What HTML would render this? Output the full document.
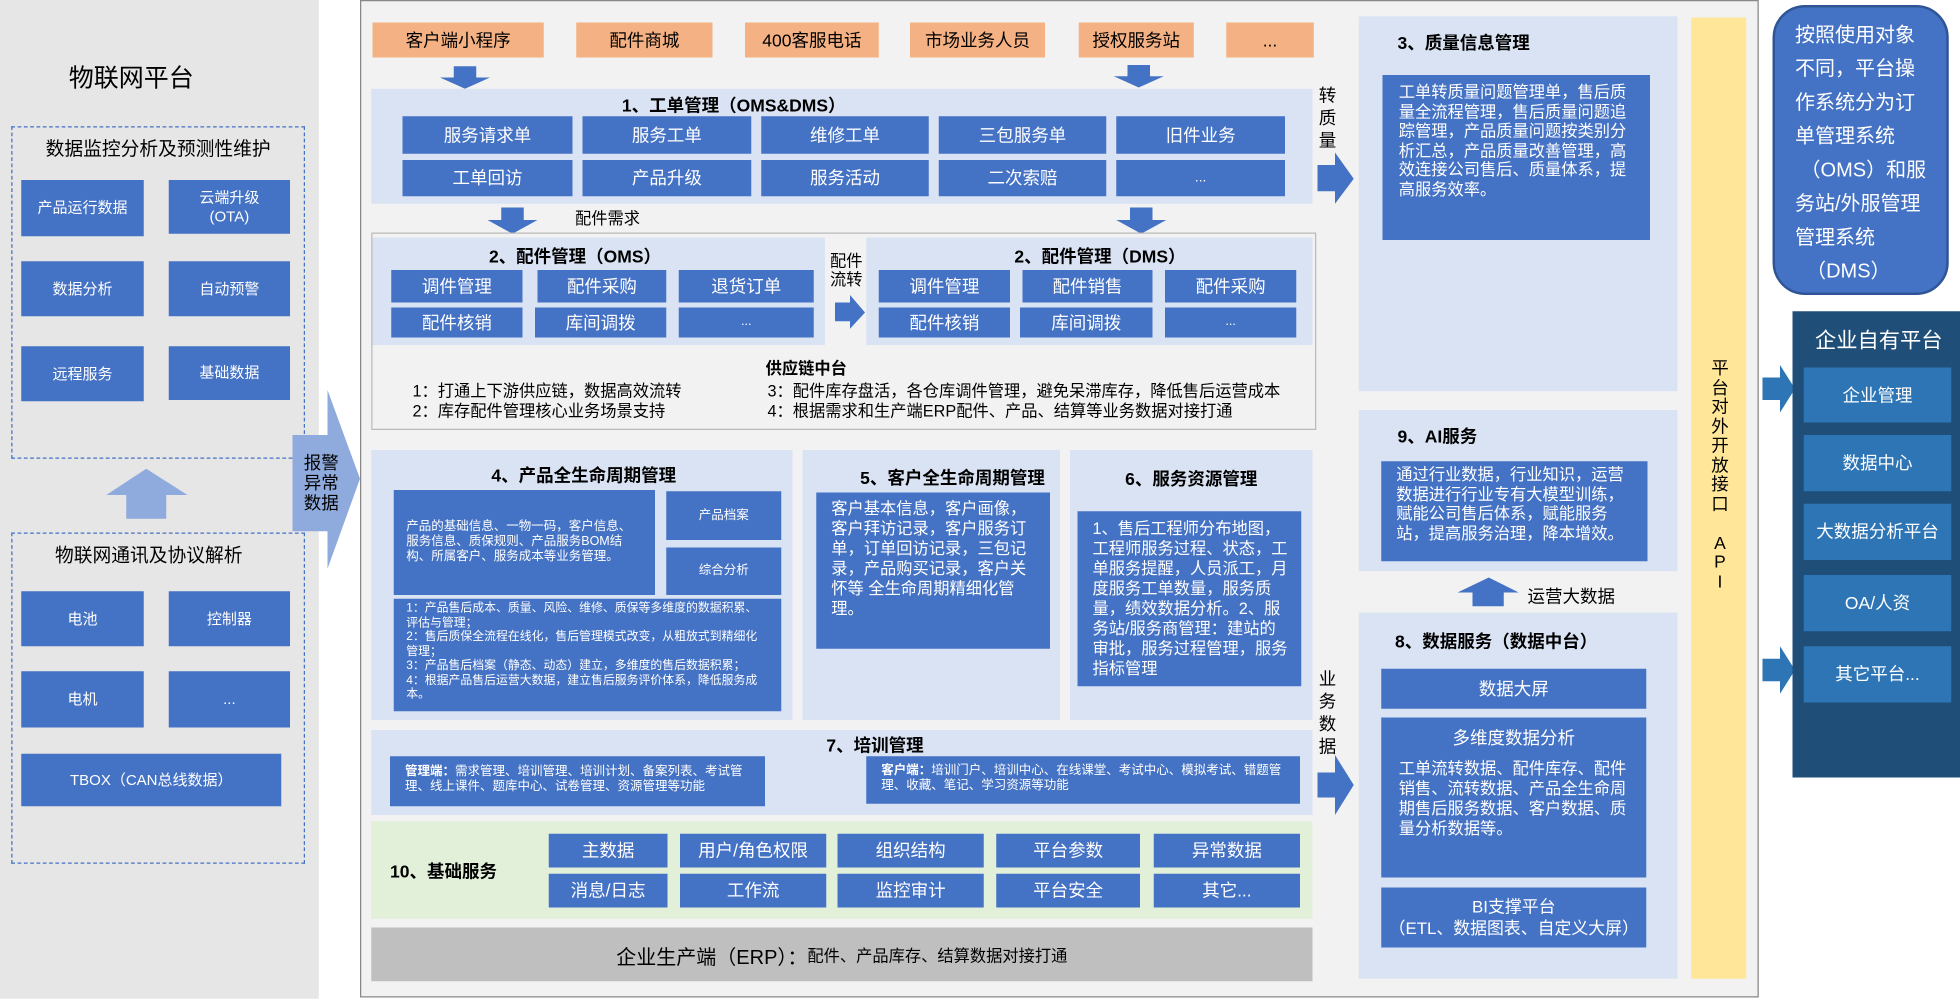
<!DOCTYPE html>
<html><head><meta charset="utf-8"><style>
html,body{margin:0;padding:0;width:1960px;height:999px;overflow:hidden;background:#fff}
#w{position:absolute;left:0;top:0;width:1568px;height:799px;transform:scale(1.25);transform-origin:0 0;font-family:"Liberation Sans","Noto Sans CJK SC",sans-serif;color:#000}
#w div{position:absolute;box-sizing:border-box}
.b{background:#4472c4;color:#fff;display:flex;align-items:center;justify-content:center;text-align:center;font-size:14px;line-height:1.2}
.o{background:#f4b183;display:flex;align-items:center;justify-content:center;font-size:14px}
.s{background:#dae3f3}
.t{font-weight:bold;font-size:14px;text-align:center;white-space:nowrap}
.p{color:#fff;font-size:13px;line-height:16px;text-align:left;padding:6px 10px}
.g{color:#fff;font-size:11.5px;line-height:13px;padding:5px 10px;text-align:left}
svg{position:absolute;left:0;top:0}
</style></head><body><div id="w">
<div style="left:0;top:0;width:255px;height:799px;background:#e7e6e6"></div>
<div style="left:30px;top:46px;width:150px;font-size:20px;text-align:center">物联网平台</div>
<div style="left:9px;top:101px;width:235px;height:266px;border:1px dashed #4472c4"></div>
<div style="left:9px;top:108px;width:235px;font-size:15px;text-align:center">数据监控分析及预测性维护</div>
<div class="b" style="left:17px;top:144px;width:98px;height:45px;font-size:12px">产品运行数据</div>
<div class="b" style="left:135px;top:144px;width:97px;height:43px;font-size:12px">云端升级<br>(OTA)</div>
<div class="b" style="left:17px;top:209px;width:98px;height:44px;font-size:12px">数据分析</div>
<div class="b" style="left:135px;top:209px;width:97px;height:44px;font-size:12px">自动预警</div>
<div class="b" style="left:17px;top:277px;width:98px;height:44px;font-size:12px">远程服务</div>
<div class="b" style="left:135px;top:277px;width:97px;height:43px;font-size:12px">基础数据</div>
<div style="left:9px;top:426px;width:235px;height:265px;border:1px dashed #4472c4"></div>
<div style="left:9px;top:433px;width:220px;font-size:15px;text-align:center">物联网通讯及协议解析</div>
<div class="b" style="left:17px;top:473px;width:98px;height:44px;font-size:12px">电池</div>
<div class="b" style="left:135px;top:473px;width:97px;height:44px;font-size:12px">控制器</div>
<div class="b" style="left:17px;top:537px;width:98px;height:45px;font-size:12px">电机</div>
<div class="b" style="left:135px;top:537px;width:97px;height:45px;font-size:12px">...</div>
<div class="b" style="left:17px;top:603px;width:208px;height:42px;font-size:12px">TBOX（CAN总线数据）</div>
<div style="left:288px;top:0;width:1119px;height:798px;background:#f2f2f2;border:1px solid #888"></div>
<svg width="1568" height="799">
<polygon points="85,396 117,375 150,396 133,396 133,415 101,415 101,396" fill="#8faadc"/>
<polygon points="234,348 262,348 262,312 288,383 262,455 262,425 234,425" fill="#8faadc"/>
<polygon points="363,53 381,53 381,62 392,62 372,71 352,62 363,62" fill="#4472c4"/>
<polygon points="902,52 920,52 920,61 931,61 911,70 891,61 902,61" fill="#4472c4"/>
<polygon points="401,166 419,166 419,176 430,176 410,187 390,176 401,176" fill="#4472c4"/>
<polygon points="904,166 922,166 922,176 933,176 913,187 893,176 904,176" fill="#4472c4"/>
<polygon points="668,242 680,242 680,236 692,250 680,263 680,257 668,257" fill="#4472c4"/>
<polygon points="1054,132 1068,132 1068,122 1083,143 1068,163 1068,153 1054,153" fill="#4472c4"/>
<polygon points="1054,618 1068,618 1068,604 1083,628 1068,652 1068,638 1054,638" fill="#4472c4"/>
<polygon points="1178,485 1178,474 1166,474 1191,462 1215,474 1203,474 1203,485" fill="#4472c4"/>
<polygon points="1410,302 1424,302 1424,292 1436,311 1424,330 1424,320 1410,320" fill="#2e75b6"/>
<polygon points="1410,527 1424,527 1424,517 1436,536 1424,555 1424,545 1410,545" fill="#2e75b6"/>
</svg>
<div style="left:240px;top:362px;width:34px;font-size:14px;line-height:16px;text-align:center">报警<br>异常<br>数据</div>
<div class="o" style="left:298px;top:18px;width:137px;height:28px">客户端小程序</div>
<div class="o" style="left:461px;top:18px;width:109px;height:28px">配件商城</div>
<div class="o" style="left:596px;top:18px;width:107px;height:28px">400客服电话</div>
<div class="o" style="left:728px;top:18px;width:108px;height:28px">市场业务人员</div>
<div class="o" style="left:863px;top:18px;width:92px;height:28px">授权服务站</div>
<div class="o" style="left:981px;top:18px;width:70px;height:28px">...</div>
<div class="s" style="left:297px;top:71px;width:753px;height:92px"></div>
<div class="t" style="left:297px;top:74px;width:580px">1、工单管理（OMS&amp;DMS）</div>
<div class="b" style="left:322px;top:93px;width:136px;height:30px">服务请求单</div>
<div class="b" style="left:466px;top:93px;width:135px;height:30px">服务工单</div>
<div class="b" style="left:609px;top:93px;width:134px;height:30px">维修工单</div>
<div class="b" style="left:751px;top:93px;width:134px;height:30px">三包服务单</div>
<div class="b" style="left:893px;top:93px;width:135px;height:30px">旧件业务</div>
<div class="b" style="left:322px;top:128px;width:136px;height:29px">工单回访</div>
<div class="b" style="left:466px;top:128px;width:135px;height:29px">产品升级</div>
<div class="b" style="left:609px;top:128px;width:134px;height:29px">服务活动</div>
<div class="b" style="left:751px;top:128px;width:134px;height:29px">二次索赔</div>
<div class="b" style="left:893px;top:128px;width:135px;height:29px;font-size:11px">...</div>
<div style="left:460px;top:164px;font-size:13px">配件需求</div>
<div style="left:297px;top:186px;width:756px;height:158px;border:1px solid #bbb"></div>
<div class="s" style="left:298px;top:190px;width:362px;height:86px"></div>
<div class="t" style="left:298px;top:195px;width:324px">2、配件管理（OMS）</div>
<div class="b" style="left:313px;top:216px;width:105px;height:26px">调件管理</div>
<div class="b" style="left:430px;top:216px;width:103px;height:26px">配件采购</div>
<div class="b" style="left:543px;top:216px;width:108px;height:26px">退货订单</div>
<div class="b" style="left:313px;top:246px;width:105px;height:24px">配件核销</div>
<div class="b" style="left:428px;top:246px;width:105px;height:24px">库间调拨</div>
<div class="b" style="left:543px;top:246px;width:108px;height:24px;font-size:10px">...</div>
<div style="left:664px;top:201px;width:30px;font-size:13px;line-height:15px">配件<br>流转</div>
<div class="s" style="left:693px;top:190px;width:357px;height:86px"></div>
<div class="t" style="left:693px;top:195px;width:374px">2、配件管理（DMS）</div>
<div class="b" style="left:703px;top:216px;width:105px;height:26px">调件管理</div>
<div class="b" style="left:818px;top:216px;width:104px;height:26px">配件销售</div>
<div class="b" style="left:932px;top:216px;width:105px;height:26px">配件采购</div>
<div class="b" style="left:703px;top:246px;width:105px;height:24px">配件核销</div>
<div class="b" style="left:816px;top:246px;width:106px;height:24px">库间调拨</div>
<div class="b" style="left:932px;top:246px;width:105px;height:24px;font-size:10px">...</div>
<div class="t" style="left:560px;top:284px;width:170px;font-size:13px">供应链中台</div>
<div style="left:330px;top:305px;font-size:13px;line-height:16px;white-space:nowrap">1：打通上下游供应链，数据高效流转<br>2：库存配件管理核心业务场景支持</div>
<div style="left:614px;top:305px;font-size:13px;line-height:16px;white-space:nowrap">3：配件库存盘活，各仓库调件管理，避免呆滞库存，降低售后运营成本<br>4：根据需求和生产端ERP配件、产品、结算等业务数据对接打通</div>
<div class="s" style="left:297px;top:360px;width:337px;height:216px"></div>
<div class="t" style="left:297px;top:370px;width:340px">4、产品全生命周期管理</div>
<div class="b g" style="left:315px;top:392px;width:209px;height:84px;display:block;padding-top:24px;font-size:10px;line-height:12px">产品的基础信息、一物一码，客户信息、服务信息、质保规则、产品服务BOM结构、所属客户、服务成本等业务管理。</div>
<div class="b" style="left:533px;top:393px;width:92px;height:39px;font-size:10px">产品档案</div>
<div class="b" style="left:533px;top:438px;width:92px;height:38px;font-size:10px">综合分析</div>
<div class="b g" style="left:315px;top:479px;width:310px;height:90px;display:block;font-size:9.5px;line-height:11.5px;padding:2px 10px">1：产品售后成本、质量、风险、维修、质保等多维度的数据积累、评估与管理；<br>2：售后质保全流程在线化，售后管理模式改变，从粗放式到精细化管理；<br>3：产品售后档案（静态、动态）建立，多维度的售后数据积累；<br>4：根据产品售后运营大数据，建立售后服务评价体系，降低服务成本。</div>
<div class="s" style="left:642px;top:360px;width:206px;height:216px"></div>
<div class="t" style="left:642px;top:372px;width:240px">5、客户全生命周期管理</div>
<div class="b p" style="left:653px;top:394px;width:187px;height:125px;display:block;line-height:16px;padding:5px 12px">客户基本信息，客户画像，客户拜访记录，客户服务订单，订单回访记录，三包记录，产品购买记录，客户关怀等 全生命周期精细化管理。</div>
<div class="s" style="left:856px;top:360px;width:194px;height:216px"></div>
<div class="t" style="left:856px;top:373px;width:194px">6、服务资源管理</div>
<div class="b p" style="left:862px;top:409px;width:179px;height:140px;display:block;line-height:16px;padding:6px 8px 6px 12px">1、售后工程师分布地图，工程师服务过程、状态，工单服务提醒，人员派工，月度服务工单数量，服务质量，绩效数据分析。2、服务站/服务商管理：建站的审批，服务过程管理，服务指标管理</div>
<div class="s" style="left:297px;top:584px;width:753px;height:68px"></div>
<div class="t" style="left:297px;top:586px;width:806px">7、培训管理</div>
<div class="b g" style="left:312px;top:605px;width:300px;height:40px;display:block;font-size:10px;line-height:12px;padding:7px 12px"><b>管理端：</b>需求管理、培训管理、培训计划、备案列表、考试管理、线上课件、题库中心、试卷管理、资源管理等功能</div>
<div class="b g" style="left:693px;top:605px;width:347px;height:38px;display:block;font-size:10px;line-height:12px;padding:6px 12px"><b>客户端：</b>培训门户、培训中心、在线课堂、考试中心、模拟考试、错题管理、收藏、笔记、学习资源等功能</div>
<div style="left:297px;top:657px;width:753px;height:78px;background:#e2f0d9"></div>
<div class="t" style="left:312px;top:687px;font-size:14px;text-align:left">10、基础服务</div>
<div class="b" style="left:439px;top:667px;width:95px;height:27px">主数据</div>
<div class="b" style="left:544px;top:667px;width:117px;height:27px">用户/角色权限</div>
<div class="b" style="left:670px;top:667px;width:117px;height:27px">组织结构</div>
<div class="b" style="left:797px;top:667px;width:115px;height:27px">平台参数</div>
<div class="b" style="left:923px;top:667px;width:117px;height:27px">异常数据</div>
<div class="b" style="left:439px;top:699px;width:95px;height:27px">消息/日志</div>
<div class="b" style="left:544px;top:699px;width:117px;height:27px">工作流</div>
<div class="b" style="left:670px;top:699px;width:117px;height:27px">监控审计</div>
<div class="b" style="left:797px;top:699px;width:115px;height:27px">平台安全</div>
<div class="b" style="left:923px;top:699px;width:117px;height:27px">其它...</div>
<div style="left:297px;top:742px;width:753px;height:43px;background:#bfbfbf;display:flex;align-items:center;justify-content:center;font-size:16px;white-space:nowrap">企业生产端（ERP）：<span style="font-size:13px">配件、产品库存、结算数据对接打通</span></div>
<div style="left:1055px;top:67px;width:18px;font-size:14px;line-height:18px">转<br>质<br>量</div>
<div style="left:1055px;top:534px;width:18px;font-size:14px;line-height:18px">业<br>务<br>数<br>据</div>
<div class="s" style="left:1087px;top:13px;width:255px;height:300px"></div>
<div class="t" style="left:1118px;top:24px;font-size:14px;text-align:left">3、质量信息管理</div>
<div class="b p" style="left:1106px;top:60px;width:214px;height:132px;display:block;line-height:15.5px;padding:6px 13px">工单转质量问题管理单，售后质量全流程管理，售后质量问题追踪管理，产品质量问题按类别分析汇总，产品质量改善管理，高效连接公司售后、质量体系，提高服务效率。</div>
<div class="s" style="left:1087px;top:328px;width:255px;height:129px"></div>
<div class="t" style="left:1118px;top:339px;font-size:14px;text-align:left">9、AI服务</div>
<div class="b p" style="left:1105px;top:369px;width:213px;height:80px;display:block;line-height:15.5px;padding:3px 12px">通过行业数据，行业知识，运营数据进行行业专有大模型训练，赋能公司售后体系，赋能服务站，提高服务治理，降本增效。</div>
<div style="left:1222px;top:467px;font-size:14px">运营大数据</div>
<div class="s" style="left:1087px;top:490px;width:255px;height:293px"></div>
<div class="t" style="left:1116px;top:503px;font-size:14px;text-align:left">8、数据服务（数据中台）</div>
<div class="b" style="left:1105px;top:535px;width:212px;height:32px">数据大屏</div>
<div class="b" style="left:1105px;top:574px;width:212px;height:128px;display:block">
<div style="position:relative;text-align:center;margin-top:8px;font-size:14px">多维度数据分析</div>
<div style="position:relative;text-align:left;padding:8px 10px 0 14px;font-size:13px;line-height:16px">工单流转数据、配件库存、配件销售、流转数据、产品全生命周期售后服务数据、客户数据、质量分析数据等。</div></div>
<div class="b" style="left:1105px;top:710px;width:212px;height:48px;font-size:13.5px;line-height:17px">BI支撑平台<br>（ETL、数据图表、自定义大屏）</div>
<div style="left:1353px;top:14px;width:44px;height:769px;background:#ffe699"></div>
<div style="left:1368px;top:287px;width:16px;font-size:14px;line-height:15.5px;text-align:center">平<br>台<br>对<br>外<br>开<br>放<br>接<br>口<br><br>A<br>P<br>I</div>
<div style="left:1418px;top:4px;width:141px;height:232px;background:#4472c4;border:2px solid #2f5597;border-radius:26px"></div>
<div style="left:1436px;top:15px;width:120px;font-size:16px;line-height:27px;color:#fff;white-space:nowrap">按照使用对象<br>不同，平台操<br>作系统分为订<br>单管理系统<br>&nbsp;（OMS）和服<br>务站/外服管理<br>管理系统<br>&nbsp;&nbsp;（DMS）</div>
<div style="left:1434px;top:249px;width:134px;height:373px;background:#1f4e79"></div>
<div style="left:1434px;top:258px;width:138px;font-size:17px;color:#fff;text-align:center">企业自有平台</div>
<div class="b" style="left:1443px;top:294px;width:118px;height:44px;background:#2e75b6">企业管理</div>
<div class="b" style="left:1443px;top:348px;width:118px;height:45px;background:#2e75b6">数据中心</div>
<div class="b" style="left:1443px;top:403px;width:118px;height:45px;background:#2e75b6">大数据分析平台</div>
<div class="b" style="left:1443px;top:460px;width:118px;height:45px;background:#2e75b6">OA/人资</div>
<div class="b" style="left:1443px;top:517px;width:118px;height:45px;background:#2e75b6">其它平台...</div>
</div></body></html>
